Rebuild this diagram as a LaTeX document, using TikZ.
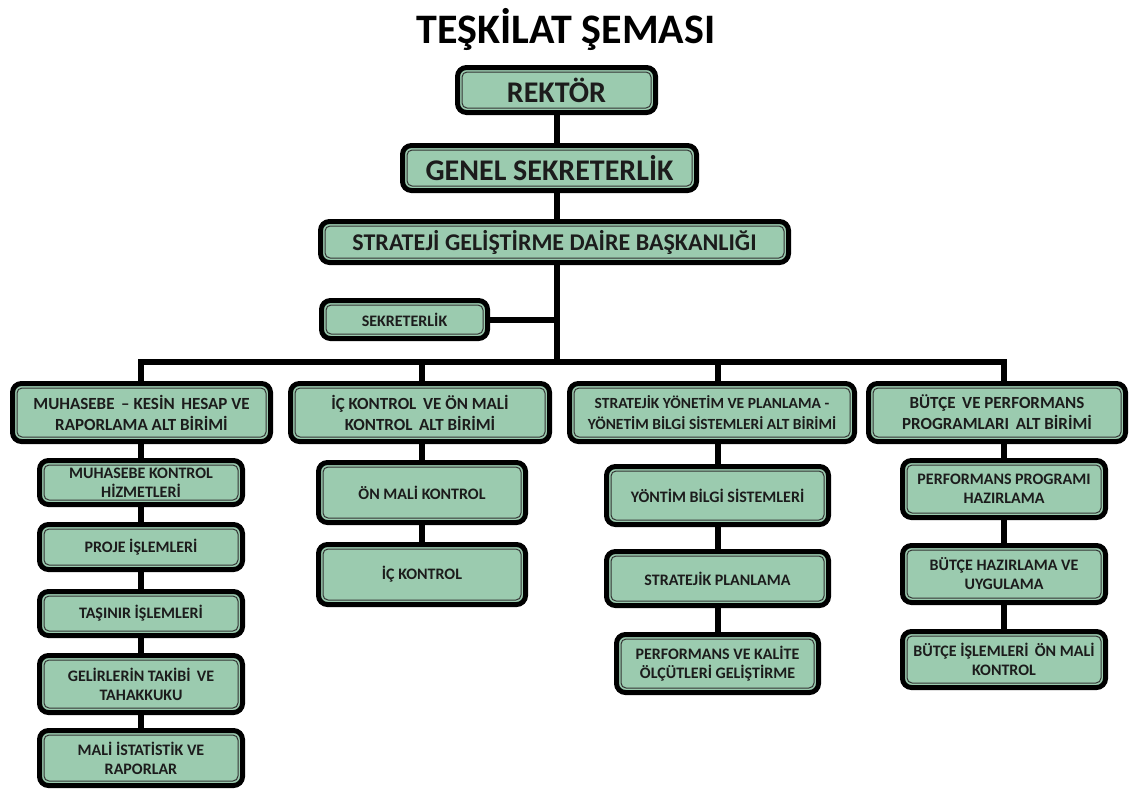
\documentclass[tikz,border=0pt]{standalone}
\usepackage{fontspec}
\setmainfont{Carlito}
\usetikzlibrary{calc}
\definecolor{boxgreen}{RGB}{155,203,175}
\definecolor{txtcol}{RGB}{28,28,28}
\pgfdeclarelayer{bg}
\pgfsetlayers{bg,main}
\newcommand\fntA{\bfseries\fontsize{30}{34}\selectfont}
\newcommand\fntB{\bfseries\fontsize{24}{28}\selectfont}
\newcommand\fntC{\bfseries\fontsize{17}{21}\selectfont}
\newcommand\fntCs{\bfseries\fontsize{15.5}{21}\selectfont}
\newcommand\fntD{\bfseries\fontsize{16}{19}\selectfont}
\tikzset{
  box/.style={draw=black, line width=5pt, fill=boxgreen, rounded corners=9pt,
    inner sep=1pt, text=txtcol, align=center,
    path picture={\draw[line width=1pt, draw=black!80, rounded corners=5pt]
      ([shift={(4.5pt,4.5pt)}]path picture bounding box.south west) rectangle
      ([shift={(-4.5pt,-4.5pt)}]path picture bounding box.north east);}},
  conn/.style={line width=6pt, draw=black, line join=miter}
}
\newcommand\bx[7]{\node[box,font=#6,minimum width={#4-#2-5},minimum height={#5-#3-5}] (#1) at ({(#2+#4)/2},{(#3+#5)/2}) {#7};}
\begin{document}
\begin{tikzpicture}[x=1pt,y={(0,-1pt)}]
\useasboundingbox (0,0) rectangle (1134,790);
\node[font=\bfseries\fontsize{42}{46}\selectfont, text=black, anchor=base] (title) at (566,43) {TEŞKİLAT ŞEMASI};
\bx{rektor}{455}{65}{658}{115}{\fntA}{REKTÖR}
\bx{genel}{400}{143}{699}{193}{\fntA}{GENEL SEKRETERLİK}
\bx{sgdb}{318}{219}{791}{265}{\fntB}{STRATEJİ GELİŞTİRME DAİRE BAŞKANLIĞI}
\bx{sek}{319}{298}{490}{341}{\fntD}{SEKRETERLİK}
\coordinate (bar) at (0,362);
% level 2
\bx{m1}{10}{381}{273}{444}{\fntC}{MUHASEBE \,– KESİN \,HESAP VE\\RAPORLAMA ALT BİRİMİ}
\bx{m2}{288}{381}{552}{444}{\fntC}{İÇ KONTROL \,VE ÖN MALİ\\KONTROL \,ALT BİRİMİ}
\bx{m3}{567}{381}{857}{444}{\fntCs}{STRATEJİK YÖNETİM VE PLANLAMA -\\YÖNETİM BİLGİ SİSTEMLERİ ALT BİRİMİ}
\bx{m4}{866}{381}{1128}{444}{\fntC}{BÜTÇE \,VE PERFORMANS\\PROGRAMLARI \,ALT BİRİMİ}
% column 1
\bx{c11}{37}{458}{245}{507}{\fntD}{MUHASEBE KONTROL\\HİZMETLERİ}
\bx{c12}{37}{522}{245}{572}{\fntD}{PROJE İŞLEMLERİ}
\bx{c13}{37}{589}{245}{638}{\fntD}{TAŞINIR İŞLEMLERİ}
\bx{c14}{37}{653}{245}{715}{\fntD}{GELİRLERİN TAKİBİ \,VE\\TAHAKKUKU}
\bx{c15}{37}{728}{245}{788}{\fntD}{MALİ İSTATİSTİK VE\\RAPORLAR}
% column 2
\bx{c21}{316}{460}{528}{525}{\fntD}{ÖN MALİ KONTROL}
\bx{c22}{316}{542}{528}{607}{\fntD}{İÇ KONTROL}
% column 3
\bx{c31}{604}{464}{831}{527}{\fntD}{YÖNTİM BİLGİ SİSTEMLERİ}
\bx{c32}{604}{549}{831}{608}{\fntD}{STRATEJİK PLANLAMA}
\bx{c33}{614}{632}{821}{695}{\fntD}{PERFORMANS VE KALİTE\\ÖLÇÜTLERİ GELİŞTİRME}
% column 4
\bx{c41}{900}{458}{1108}{520}{\fntD}{PERFORMANS PROGRAMI\\HAZIRLAMA}
\bx{c42}{900}{543}{1108}{605}{\fntD}{BÜTÇE HAZIRLAMA VE\\UYGULAMA}
\bx{c43}{900}{629}{1108}{690}{\fntD}{BÜTÇE İŞLEMLERİ \,ÖN MALİ\\KONTROL}
\begin{pgfonlayer}{bg}
\fill[white] (0,0) rectangle (1134,790);
\draw[conn] (rektor.south) -- (rektor.south |- bar);
\draw[conn] (sek.east) -- (sek.east -| rektor.south);
\draw[conn] (m1.north -| c11.north) -- (c11.north |- bar) -- (c41.north |- bar) -- (m4.north -| c41.north);
\draw[conn] (c21.north |- bar) -- (m2.north -| c21.north);
\draw[conn] (c31.north |- bar) -- (m3.north -| c31.north);
\draw[conn] (m1.south -| c11.north) -- (c15.north);
\draw[conn] (m2.south -| c21.north) -- (c22.north);
\draw[conn] (m3.south -| c31.north) -- (c33.north);
\draw[conn] (m4.south -| c41.north) -- (c43.north);
\end{pgfonlayer}
\end{tikzpicture}
\end{document}
